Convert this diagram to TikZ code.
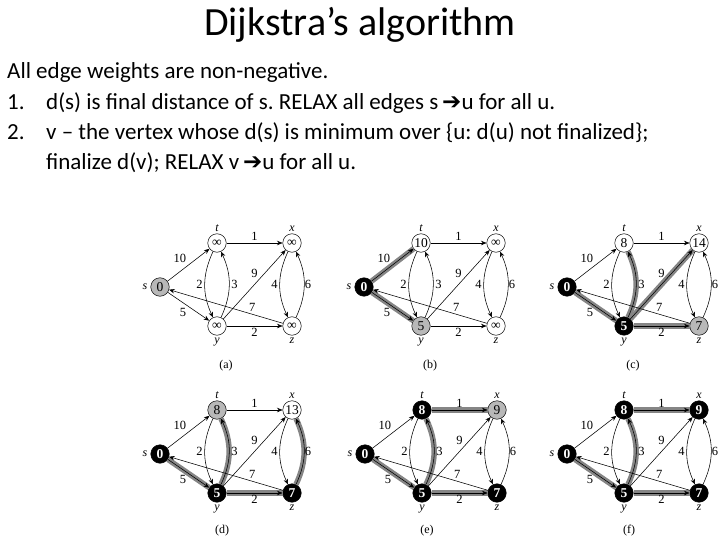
\documentclass[tikz,border=0pt]{standalone}
\usepackage{fontspec}
\setmainfont{Carlito}
\newfontfamily\figfont{Liberation Serif}
\newfontfamily\symfont{DejaVu Sans}
\usetikzlibrary{arrows.meta, positioning}
\frenchspacing
\tikzset{
    % vertices
    vert/.style  = {circle, draw=black, line width=0.5pt, minimum size=18.5pt, inner sep=0pt,
                    font=\figfont\fontsize{13.5}{13.5}\selectfont},
    openv/.style = {vert, fill=white},
    curv/.style  = {vert, fill=black!28},
    finv/.style  = {vert, fill=black, text=white, font=\figfont\bfseries\fontsize{13.5}{13.5}\selectfont},
    % edges and labels
    arrowline/.style = {line width=0.55pt, -{Stealth[length=5.5pt, width=4.5pt]}},
    treeband/.style  = {line width=5.5pt, black!48},
    wt/.style        = {font=\figfont\fontsize{12.5}{12.5}\selectfont, inner sep=2pt},
    vname/.style     = {font=\figfont\itshape\fontsize{12}{12}\selectfont, inner sep=1pt},
    panelcap/.style  = {font=\figfont\fontsize{12}{12}\selectfont},
    % slide text
    textline/.style  = {anchor=base west, inner sep=0pt, font=\fontsize{23}{27}\selectfont}
}
% edges of the graph, same in every panel
\newcommand{\dijedges}[1]{%
    \draw[arrowline] (#1s) -- node[wt, above left] {10} (#1t);
    \draw[arrowline] (#1s) -- node[wt, below left] {5} (#1y);
    \draw[arrowline] (#1t) -- node[wt, above] {1} (#1x);
    \draw[arrowline] (#1t) to[bend right=25] node[wt, left] {2} (#1y);
    \draw[arrowline] (#1y) to[bend right=25] node[wt, right] {3} (#1t);
    \draw[arrowline] (#1y) -- node[wt, above=5pt] {9} (#1x);
    \draw[arrowline] (#1y) -- node[wt, below] {2} (#1z);
    \draw[arrowline] (#1x) to[bend right=25] node[wt, left] {4} (#1z);
    \draw[arrowline] (#1z) to[bend right=25] node[wt, right, inner sep=0.5pt] {6} (#1x);
    \draw[arrowline] (#1z) -- node[wt, above, pos=0.27] {7} (#1s);
}
% vertex names
\newcommand{\dijnames}[1]{%
    \node[vname, left=2pt of #1s]  (#1sn) {s};
    \node[vname, above=1pt of #1t] (#1tn) {t};
    \node[vname, above=1pt of #1x] (#1xn) {x};
    \node[vname, below=1pt of #1y] (#1yn) {y};
    \node[vname, below=1pt of #1z] (#1zn) {z};
}

\begin{document}
\begin{tikzpicture}[x=1pt, y=-1pt]
    \useasboundingbox (0,0) rectangle (720,540);

    % Title and text
    \node[anchor=base, inner sep=0pt, font=\fontsize{40}{48}\selectfont] (title) at (360,36) {Dijkstra’s algorithm};
    \node[textline] (intro) at (7,79) {All edge weights are non-negative.};
    \node[textline] (num1)  at (7,110) {1.};
    \node[textline] (step1) at (46,110) {d(s) is final distance of s. RELAX all edges s\,{\symfont ➔}u for all u.};
    \node[textline] (num2)  at (7,140) {2.};
    \node[textline] (step2) at (46,140) {v -- the vertex whose d(s) is minimum over \{u: d(u) not finalized\};};
    \node[textline] (step2b) at (46,170) {finalize d(v); RELAX v\,{\symfont ➔}u for all u.};

    % (a)
    \begin{scope}[shift={(217,243)}]
        \node[curv]  (a-s) at (-57,44) {0};
        \node[openv] (a-t) at (0,0)    {∞};
        \node[openv] (a-x) at (75,0)   {∞};
        \node[openv] (a-y) at (0,83)   {∞};
        \node[openv] (a-z) at (75,83)  {∞};
        \node[panelcap] (a-cap) at (9,123) {(a)};
    \end{scope}
    \dijedges{a-}
    \dijnames{a-}

    % (b)
    \begin{scope}[shift={(421,243)}]
        \node[finv]  (b-s) at (-57,44) {0};
        \node[openv] (b-t) at (0,0)    {10};
        \node[openv] (b-x) at (75,0)   {∞};
        \node[curv]  (b-y) at (0,83)   {5};
        \node[openv] (b-z) at (75,83)  {∞};
        \node[panelcap] (b-cap) at (9,123) {(b)};
    \end{scope}
    \draw[treeband] (b-s) -- (b-t);
    \draw[treeband] (b-s) -- (b-y);
    \dijedges{b-}
    \dijnames{b-}

    % (c)
    \begin{scope}[shift={(624,243)}]
        \node[finv]  (c-s) at (-57,44) {0};
        \node[openv] (c-t) at (0,0)    {8};
        \node[openv] (c-x) at (75,0)   {14};
        \node[finv]  (c-y) at (0,83)   {5};
        \node[curv]  (c-z) at (75,83)  {7};
        \node[panelcap] (c-cap) at (9,123) {(c)};
    \end{scope}
    \draw[treeband] (c-s) -- (c-y);
    \draw[treeband] (c-y) to[bend right=25] (c-t);
    \draw[treeband] (c-y) -- (c-x);
    \draw[treeband] (c-y) -- (c-z);
    \dijedges{c-}
    \dijnames{c-}

    % (d)
    \begin{scope}[shift={(217,410)}]
        \node[finv]  (d-s) at (-57,44) {0};
        \node[curv]  (d-t) at (0,0)    {8};
        \node[openv] (d-x) at (75,0)   {13};
        \node[finv]  (d-y) at (0,83)   {5};
        \node[finv]  (d-z) at (75,83)  {7};
        \node[panelcap] (d-cap) at (5,121) {(d)};
    \end{scope}
    \draw[treeband] (d-s) -- (d-y);
    \draw[treeband] (d-y) to[bend right=25] (d-t);
    \draw[treeband] (d-y) -- (d-z);
    \draw[treeband] (d-z) to[bend right=25] (d-x);
    \dijedges{d-}
    \dijnames{d-}

    % (e)
    \begin{scope}[shift={(422,410)}]
        \node[finv]  (e-s) at (-57,44) {0};
        \node[finv]  (e-t) at (0,0)    {8};
        \node[curv]  (e-x) at (75,0)   {9};
        \node[finv]  (e-y) at (0,83)   {5};
        \node[finv]  (e-z) at (75,83)  {7};
        \node[panelcap] (e-cap) at (5,121) {(e)};
    \end{scope}
    \draw[treeband] (e-s) -- (e-y);
    \draw[treeband] (e-y) to[bend right=25] (e-t);
    \draw[treeband] (e-y) -- (e-z);
    \draw[treeband] (e-t) -- (e-x);
    \dijedges{e-}
    \dijnames{e-}

    % (f)
    \begin{scope}[shift={(624,410)}]
        \node[finv]  (f-s) at (-57,44) {0};
        \node[finv]  (f-t) at (0,0)    {8};
        \node[finv]  (f-x) at (75,0)   {9};
        \node[finv]  (f-y) at (0,83)   {5};
        \node[finv]  (f-z) at (75,83)  {7};
        \node[panelcap] (f-cap) at (5,121) {(f)};
    \end{scope}
    \draw[treeband] (f-s) -- (f-y);
    \draw[treeband] (f-y) to[bend right=25] (f-t);
    \draw[treeband] (f-y) -- (f-z);
    \draw[treeband] (f-t) -- (f-x);
    \dijedges{f-}
    \dijnames{f-}
\end{tikzpicture}
\end{document}
